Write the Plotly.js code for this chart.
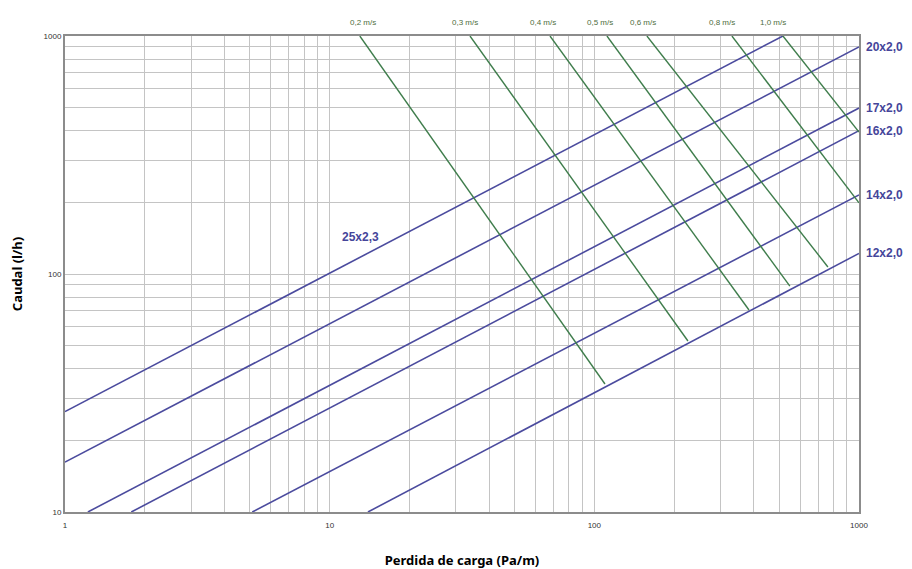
<!DOCTYPE html>
<html>
<head>
<meta charset="utf-8">
<script src="https://cdn.plot.ly/plotly-3.0.1.min.js"></script>
<style>html,body{margin:0;padding:0;background:#fff;}#chart{width:912px;height:569px;}</style>
</head>
<body>
<div id="chart"></div>
<script>
// Pipe lines (caudal vs perdida de carga)
const pipeNames = ["25x2,3", "20x2,0", "17x2,0", "16x2,0", "14x2,0", "12x2,0"];
const pipeDp = [[1, 516], [1, 1000], [1.22, 1000], [1.78, 1000], [5.1, 1000], [13.95, 1000]];
const pipeQ = [[26.4, 1000], [16.2, 900], [10, 498], [10, 400], [10, 215], [10, 122]];

// Velocity lines
const velNames = ["0,2 m/s", "0,3 m/s", "0,4 m/s", "0,5 m/s", "0,6 m/s", "0,8 m/s", "1,0 m/s"];
const velDp = [[13, 109.7], [33.9, 225.8], [68, 384], [111.6, 548], [158, 763], [331, 1000], [516, 1000]];
const velQ = [[1000, 34.5], [1000, 52.3], [1000, 70.6], [1000, 89], [1000, 107], [1000, 199], [1000, 395]];

// Axis ticks
const xTickLabels = ["1", "10", "100", "1000"];
const yTickLabels = ["10", "100", "1000"];

const BLUE = "#4b4b9e";
const GREEN = "#3f7d4c";

const traces = [];
pipeNames.forEach((n, i) => {
  traces.push({x: pipeDp[i], y: pipeQ[i], mode: "lines", name: n,
    line: {color: BLUE, width: 1.6}, hoverinfo: "name"});
});
velNames.forEach((n, i) => {
  traces.push({x: velDp[i], y: velQ[i], mode: "lines", name: n,
    line: {color: GREEN, width: 1.4}, hoverinfo: "name"});
});

function logGrid(lo, hi) {
  const v = [], t = [];
  for (let d = lo; d < hi; d++) {
    for (let k = 1; k <= 9; k++) {
      const val = k * Math.pow(10, d);
      v.push(val);
      t.push(k === 1 ? String(val) : "");
    }
  }
  v.push(Math.pow(10, hi)); t.push(String(Math.pow(10, hi)));
  return [v, t];
}
const [xv, xt] = logGrid(0, 3);
const [yv, yt] = logGrid(1, 3);

const annotations = [];
// pipe labels
pipeNames.forEach((n, i) => {
  if (i === 0) {
    annotations.push({x: Math.log10(13.1), y: Math.log10(143), xref: "x", yref: "y",
      text: "<b>" + n + "</b>", showarrow: false,
      font: {family: "Liberation Sans, Arial", size: 12, color: "#45459a"}});
  } else {
    annotations.push({x: 1, y: Math.log10(pipeQ[i][1]), xref: "paper", yref: "y",
      xanchor: "left", xshift: 5, text: "<b>" + n + "</b>", showarrow: false,
      font: {family: "Liberation Sans, Arial", size: 12, color: "#45459a"}});
  }
});
// velocity labels
const velShift = [3, -5, -7, -7, -4, -10, -10];
velNames.forEach((n, i) => {
  annotations.push({x: Math.log10(velDp[i][0]), y: 1, xref: "x", yref: "paper",
    yanchor: "bottom", yshift: 7, xshift: velShift[i], text: n, showarrow: false,
    font: {family: "Liberation Sans, Arial", size: 8, color: "#4d6e40"}});
});

const layout = {
  width: 912, height: 569,
  margin: {l: 65, r: 53, t: 36, b: 57},
  paper_bgcolor: "#ffffff", plot_bgcolor: "#ffffff",
  showlegend: false,
  xaxis: {
    type: "log", range: [0, 3],
    tickmode: "array", tickvals: xv, ticktext: xt,
    ticks: "", showgrid: true, gridcolor: "#c4c4c4", gridwidth: 1,
    showline: true, linecolor: "#8c8c8c", linewidth: 2, mirror: true,
    zeroline: false, ticklabelstandoff: 4,
    tickfont: {family: "Liberation Sans, Arial", size: 8, color: "#333"},
    title: {text: "<b>Perdida de carga (Pa/m)</b>", standoff: 30,
      font: {family: "Noto Sans, Open Sans", size: 13, color: "#000"}}
  },
  yaxis: {
    type: "log", range: [1, 3],
    tickmode: "array", tickvals: yv, ticktext: yt,
    ticks: "", showgrid: true, gridcolor: "#c4c4c4", gridwidth: 1,
    showline: true, linecolor: "#8c8c8c", linewidth: 2, mirror: true,
    zeroline: false,
    tickfont: {family: "Liberation Sans, Arial", size: 8, color: "#333"},
    title: {text: "<b>Caudal (l/h)</b>", standoff: 18,
      font: {family: "Noto Sans, Open Sans", size: 13, color: "#000"}}
  },
  annotations: annotations
};

Plotly.newPlot("chart", traces, layout, {displayModeBar: false, staticPlot: true});
</script>
</body>
</html>
